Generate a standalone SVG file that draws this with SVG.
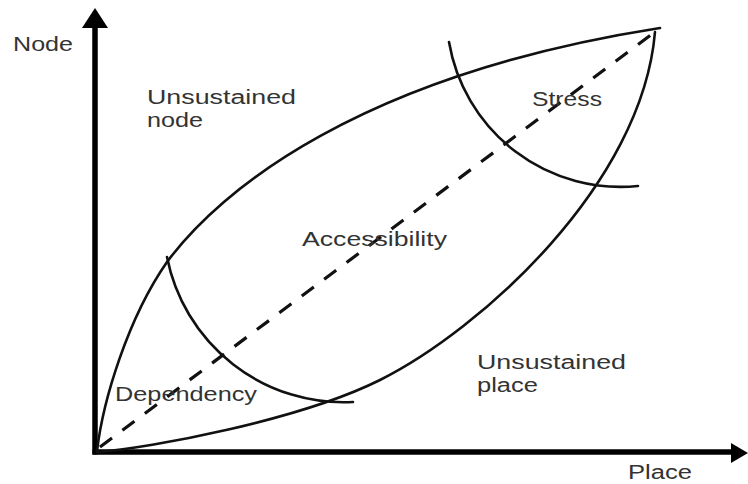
<svg xmlns="http://www.w3.org/2000/svg" width="748" height="484" viewBox="0 0 748 484">
<style>
.lbl{font-family:"Liberation Sans",Arial,sans-serif;font-size:20px;fill:#333;}
.crv{fill:none;stroke:#111;stroke-width:2.6;stroke-linecap:round;}
.ax{fill:none;stroke:#000;stroke-width:5.5;}
</style>
<rect width="748" height="484" fill="#fff"/>
<g id="axes">
<line class="ax" x1="95" y1="454.5" x2="95" y2="24"/>
<polygon points="95,8 82,28 108,28" fill="#000"/>
<line class="ax" x1="92.5" y1="452" x2="734" y2="452"/>
<polygon points="748,453 731,443 731,463" fill="#000"/>
</g>
<g id="curves">
<path class="crv" d="M97 451 C103 400 128 318 167 262 C220 190 360 75 660 28"/>
<path class="crv" d="M97 452 C150 448 300 420 380 380 C480 330 642 185 655 32"/>
<path class="crv" d="M449 42 A174 174 0 0 0 638 186"/>
<path class="crv" d="M167 257 A180 180 0 0 0 353 402"/>
<line x1="100" y1="447" x2="652" y2="34" stroke="#111" stroke-width="3.2" stroke-dasharray="15 13"/>
</g>
<g id="labels">
<text class="lbl" x="13" y="51" textLength="60" lengthAdjust="spacingAndGlyphs">Node</text>
<text class="lbl" x="147" y="104" textLength="149" lengthAdjust="spacingAndGlyphs">Unsustained</text>
<text class="lbl" x="147" y="127" textLength="56" lengthAdjust="spacingAndGlyphs">node</text>
<text class="lbl" x="532" y="106" textLength="70" lengthAdjust="spacingAndGlyphs">Stress</text>
<text class="lbl" x="302" y="246" textLength="145" lengthAdjust="spacingAndGlyphs">Accessibility</text>
<text class="lbl" x="477" y="369" textLength="149" lengthAdjust="spacingAndGlyphs">Unsustained</text>
<text class="lbl" x="477" y="392" textLength="61" lengthAdjust="spacingAndGlyphs">place</text>
<text class="lbl" x="115" y="401" textLength="142" lengthAdjust="spacingAndGlyphs">Dependency</text>
<text class="lbl" x="628" y="479" textLength="64" lengthAdjust="spacingAndGlyphs">Place</text>
</g>
</svg>
